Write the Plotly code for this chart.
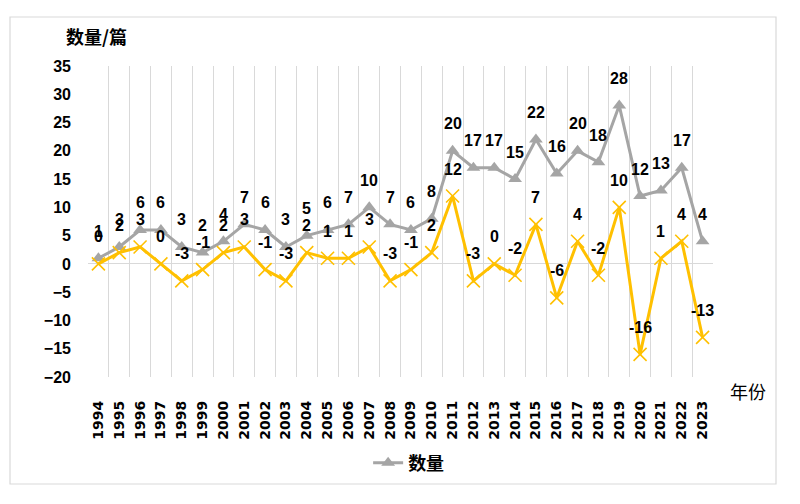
import plotly.graph_objects as go

years = list(range(1994, 2024))
count = [1, 3, 6, 6, 3, 2, 4, 7, 6, 3, 5, 6, 7, 10, 7, 6, 8, 20, 17, 17, 15, 22, 16, 20, 18, 28, 12, 13, 17, 4]
change = [0, 2, 3, 0, -3, -1, 2, 3, -1, -3, 2, 1, 1, 3, -3, -1, 2, 12, -3, 0, -2, 7, -6, 4, -2, 10, -16, 1, 4, -13]
y_ticks = [35, 30, 25, 20, 15, 10, 5, 0, -5, -10, -15, -20]

GRAY = "#A5A5A5"
YELLOW = "#FFC000"
GRID = "#D9D9D9"
NUM_FONT = dict(family="Liberation Sans", size=16, color="#000000", weight="bold")

fig = go.Figure()
fig.add_trace(go.Scatter(
    x=years, y=count, mode="lines+markers", name="数量",
    line=dict(color=GRAY, width=3),
    marker=dict(symbol="triangle-up", size=12, color=GRAY),
))
fig.add_trace(go.Scatter(
    x=years, y=change, mode="lines+markers", name="变化", showlegend=False,
    line=dict(color=YELLOW, width=3),
    marker=dict(symbol="x-thin", size=13, color=YELLOW, line=dict(color=YELLOW, width=1.6)),
))

annotations = []
for xv, yv in zip(years, count):
    annotations.append(dict(x=xv, y=yv, text=str(yv), showarrow=False, yshift=27,
                            font=NUM_FONT, xref="x", yref="y"))
for xv, yv in zip(years, change):
    annotations.append(dict(x=xv, y=yv, text=str(yv), showarrow=False, yshift=27,
                            font=NUM_FONT, xref="x", yref="y"))

annotations.append(dict(text="数量/篇", xref="paper", yref="paper", x=0.013, y=1.0965,
                        xanchor="center", yanchor="middle", showarrow=False,
                        font=dict(family="Noto Sans CJK SC", size=18, color="#000000", weight="bold")))
annotations.append(dict(text="年份", xref="paper", yref="paper", x=1.056, y=-0.045,
                        xanchor="center", yanchor="middle", showarrow=False,
                        font=dict(family="Noto Sans CJK SC", size=18, color="#000000")))

fig.update_layout(
    width=784, height=488,
    margin=dict(l=80, r=79, t=58, b=119),
    paper_bgcolor="white", plot_bgcolor="white",
    annotations=annotations,
    showlegend=True,
    legend=dict(orientation="h", x=0.513, y=-0.277, xanchor="center", yanchor="middle",
                font=dict(family="Noto Sans CJK SC", size=18, color="#000000", weight="bold"),
                bgcolor="rgba(0,0,0,0)"),
    shapes=[dict(type="rect", xref="paper", yref="paper", x0=-0.1248, x1=1.1008,
                 y0=-0.344, y1=1.1576, line=dict(color=GRID, width=1.2), layer="below")],
)

fig.update_xaxes(
    range=[1993.5, 2023.5], tickmode="array", tickvals=years, ticktext=[str(y) for y in years],
    tickangle=-90, showgrid=False, zeroline=False, showline=False, ticks="",
    ticklabelstandoff=20,
    tickfont=dict(family="DejaVu Sans", size=14, color="#000000", weight="bold"),
    minor=dict(tickmode="linear", tick0=1993.5, dtick=1, showgrid=True, gridcolor=GRID, gridwidth=1, ticks=""),
)
fig.update_yaxes(
    range=[-20, 35], tickmode="array", tickvals=y_ticks, showgrid=False,
    zeroline=True, zerolinecolor=GRID, zerolinewidth=1, showline=False, ticks="",
    ticklabelstandoff=16,
    tickfont=dict(family="Liberation Sans", size=16, color="#000000", weight="bold"),
)

fig.write_html("out.html")
